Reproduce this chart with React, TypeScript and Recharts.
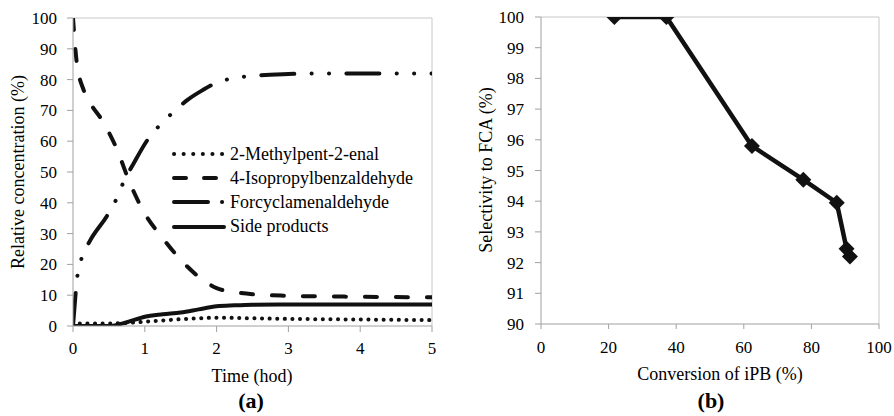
import React from "react"
import {
  LineChart,
  Line,
  XAxis,
  YAxis,
  ReferenceLine,
} from "recharts"

const serif = '"Liberation Serif", "Times New Roman", Tinos, "Noto Serif", "DejaVu Serif", FreeSerif, Times, serif'
const ink = "#111"
const axisGray = "#a0a0a0"
const borderGray = "#c8c8c8"

// (a) concentration profiles, time in hours
const mpeTime = [0, 0.05, 0.25, 0.5, 0.75, 1, 1.25, 1.5, 1.75, 2, 2.5, 3, 3.5, 4, 4.5, 5]
const mpeConc = [0, 0.8, 0.8, 0.8, 1.0, 1.4, 1.8, 2.2, 2.5, 2.7, 2.5, 2.3, 2.2, 2.1, 2.0, 1.9]

const ipbTime = [0, 0.05, 0.15, 0.25, 0.4, 0.6, 0.8, 1.0, 1.25, 1.5, 1.75, 2.0, 2.25, 2.5, 3, 3.5, 4, 4.5, 5]
const ipbConc = [100, 86, 76.5, 72, 67, 58, 46, 36.5, 28.5, 21.5, 16, 12.3, 11, 10.3, 9.8, 9.6, 9.5, 9.4, 9.3]

const fcaTime = [0, 0.06, 0.12, 0.23, 0.48, 0.6, 0.7, 0.85, 1.04, 1.2, 1.4, 1.6, 1.8, 2.0, 2.2, 2.5, 3, 3.5, 4, 4.5, 5]
const fcaConc = [0, 16, 22, 27.4, 36, 41, 46.5, 53, 60.5, 65, 69.5, 73.5, 76.5, 79, 80.3, 81.2, 81.8, 82, 82, 82, 82]

const sideTime = [0, 0.5, 0.75, 1.0, 1.25, 1.5, 1.75, 2.0, 2.25, 2.5, 3, 4, 5]
const sideConc = [0, 0, 1.2, 3.0, 3.8, 4.4, 5.4, 6.4, 6.7, 6.9, 7, 7, 7]

const timeTicks = [0, 1, 2, 3, 4, 5]
const concTicks = [0, 10, 20, 30, 40, 50, 60, 70, 80, 90, 100]

// (b) selectivity vs conversion
const conversion = [21.7, 37.1, 62.4, 77.6, 87.5, 90.4, 91.4]
const selectivity = [100, 100, 95.8, 94.7, 93.95, 92.45, 92.2]
const convTicks = [0, 20, 40, 60, 80, 100]
const selTicks = [90, 91, 92, 93, 94, 95, 96, 97, 98, 99, 100]

const pts = (ts: number[], vs: number[]) => ts.map((t, i) => ({ t, v: vs[i] }))

const series = [
  { name: "2-Methylpent-2-enal", data: pts(mpeTime, mpeConc), dash: "0.1 7.5", legendDash: "0.1 9.5" },
  { name: "4-Isopropylbenzaldehyde", data: pts(ipbTime, ipbConc), dash: "12 19", legendDash: "12 18" },
  { name: "Forcyclamenaldehyde", data: pts(fcaTime, fcaConc), dash: "33 17.3 0.1 17.3 0.1 17.3", legendDash: "34 14 0.1 40" },
  { name: "Side products", data: pts(sideTime, sideConc), dash: undefined, legendDash: undefined },
]

const selData = conversion.map((c, i) => ({ c, s: selectivity[i] }))

const tickStyle = { fill: "#000", fontSize: 17, fontFamily: serif }

function LegendBox() {
  return (
    <div style={{ position: "absolute", left: 172, top: 142, fontFamily: serif, fontSize: 18, color: "#000" }}>
      {series.map((s) => (
        <div key={s.name} style={{ display: "flex", alignItems: "center", height: 24.2, whiteSpace: "nowrap" }}>
          <svg width={56} height={10} style={{ marginRight: 2 }}>
            <line
              x1={2}
              y1={5}
              x2={52}
              y2={5}
              stroke={ink}
              strokeWidth={4}
              strokeLinecap="round"
              strokeDasharray={s.legendDash}
            />
          </svg>
          <span>{s.name}</span>
        </div>
      ))}
    </div>
  )
}

function Diamond(props: any) {
  const { cx, cy, index } = props
  if (cx == null || cy == null) return null
  const r = 8
  return (
    <path
      key={`d-${index}`}
      d={`M${cx},${cy - r}L${cx + r},${cy}L${cx},${cy + r}L${cx - r},${cy}Z`}
      fill={ink}
    />
  )
}

const title = (text: string, left: number, top: number, extra: React.CSSProperties = {}) => (
  <div
    style={{
      position: "absolute",
      left,
      top,
      transform: "translateX(-50%)",
      fontFamily: serif,
      fontSize: 18,
      lineHeight: 1,
      whiteSpace: "nowrap",
      color: "#000",
      ...extra,
    }}
  >
    {text}
  </div>
)

const yTitle = (text: string, cx: number, cy: number) => (
  <div
    style={{
      position: "absolute",
      left: cx,
      top: cy,
      transform: "translate(-50%, -50%) rotate(-90deg)",
      fontFamily: serif,
      fontSize: 18,
      lineHeight: 1,
      whiteSpace: "nowrap",
      color: "#000",
    }}
  >
    {text}
  </div>
)

export default function App() {
  return (
    <div style={{ position: "absolute", left: 0, top: 0, width: 894, height: 416, background: "#fff" }}>
      <div style={{ position: "absolute", left: 0, top: 0 }}>
        <LineChart width={450} height={416} margin={{ top: 18, right: 18, bottom: 60, left: 0 }}>
          <XAxis
            dataKey="t"
            type="number"
            domain={[0, 5]}
            ticks={timeTicks}
            height={30}
            tick={tickStyle}
            tickSize={6}
            tickMargin={10}
            stroke={axisGray}
            allowDataOverflow
          />
          <YAxis
            type="number"
            domain={[0, 100]}
            ticks={concTicks}
            width={73}
            tick={tickStyle}
            tickSize={6}
            tickMargin={10}
            stroke={axisGray}
            allowDataOverflow
          />
          <ReferenceLine y={100} stroke={borderGray} strokeWidth={1} />
          <ReferenceLine x={5} stroke={borderGray} strokeWidth={1} />
          {series.map((s) => (
            <Line
              key={s.name}
              data={s.data}
              dataKey="v"
              name={s.name}
              type="monotone"
              stroke={ink}
              strokeWidth={4}
              strokeLinecap="round"
              strokeDasharray={s.dash}
              dot={false}
              activeDot={false}
              isAnimationActive={false}
            />
          ))}
        </LineChart>
      </div>
      <LegendBox />

      <div style={{ position: "absolute", left: 450, top: 0 }}>
        <LineChart width={444} height={416} data={selData} margin={{ top: 17, right: 15, bottom: 62, left: 0 }}>
          <XAxis
            dataKey="c"
            type="number"
            domain={[0, 100]}
            ticks={convTicks}
            height={30}
            tick={tickStyle}
            tickSize={5}
            tickMargin={12}
            stroke={axisGray}
          />
          <YAxis
            type="number"
            domain={[90, 100]}
            ticks={selTicks}
            width={91}
            tick={tickStyle}
            tickSize={6}
            tickMargin={11}
            stroke={axisGray}
            allowDataOverflow
          />
          <ReferenceLine y={100} stroke={borderGray} strokeWidth={1} />
          <ReferenceLine x={100} stroke={borderGray} strokeWidth={1} />
          <Line
            dataKey="s"
            type="linear"
            stroke={ink}
            strokeWidth={4.5}
            strokeLinejoin="round"
            dot={Diamond}
            activeDot={false}
            isAnimationActive={false}
          />
        </LineChart>
      </div>

      {yTitle("Relative concentration (%)", 18, 172)}
      {title("Time (hod)", 252, 366.6)}
      {title("(a)", 251, 389.6, { fontSize: 22, fontWeight: "bold" })}

      {yTitle("Selectivity to FCA (%)", 486, 170)}
      {title("Conversion of iPB (%)", 720, 365)}
      {title("(b)", 711, 389.6, { fontSize: 22, fontWeight: "bold" })}
    </div>
  )
}
